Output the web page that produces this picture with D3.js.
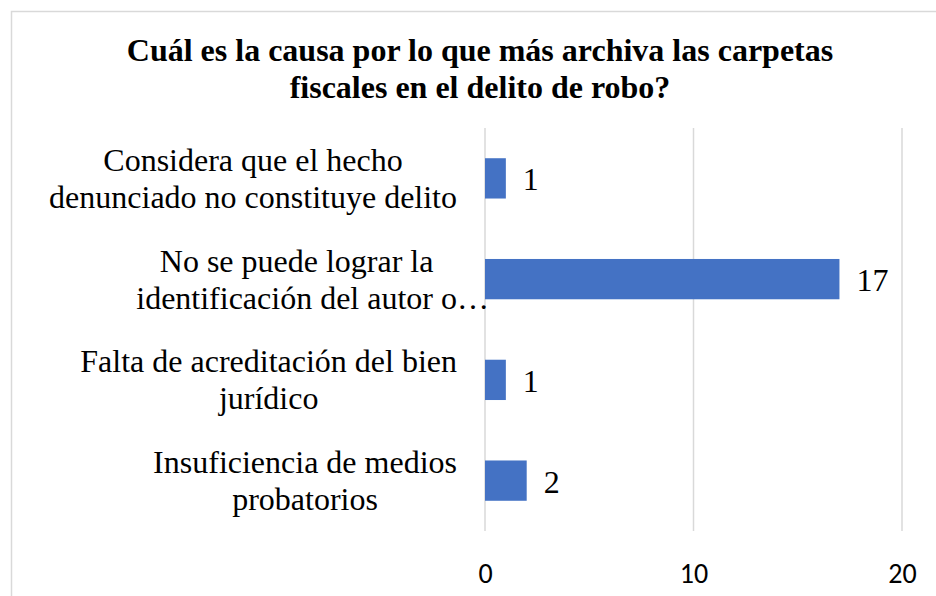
<!DOCTYPE html>
<html>
<head>
<meta charset="utf-8">
<script src="https://cdn.jsdelivr.net/npm/d3@7"></script>
<style>
  body { margin: 0; background: #fff; }
</style>
</head>
<body>
<div id="vis-container"></div>
<script>
// Data (top to bottom)
const categories = [
  ["Considera que el hecho", "denunciado no constituye delito"],
  ["No se puede lograr la", "identificación del autor o…"],
  ["Falta de acreditación del bien", "jurídico"],
  ["Insuficiencia de medios", "probatorios"]
];
const values = [1, 17, 1, 2];
const xTicks = [0, 10, 20];
const titleLines = [
  "Cuál es la causa por lo que más archiva las carpetas",
  "fiscales en el delito de robo?"
];

const W = 936, H = 596;
const plot = { left: 485, right: 902, top: 128, bottom: 531 };
const serif = "'Liberation Serif', 'Times New Roman', serif";

const svg = d3.select("#vis-container")
  .append("svg")
    .attr("width", W)
    .attr("height", H);

// chart border (runs off the right/bottom edge)
svg.append("rect")
  .attr("x", 11.5).attr("y", 11.5)
  .attr("width", W + 20).attr("height", H + 20)
  .attr("fill", "#fff")
  .attr("stroke", "#d9d9d9")
  .attr("stroke-width", 1.5);

const x = d3.scaleLinear()
  .domain([0, 20])
  .range([plot.left, plot.right]);

const y = d3.scaleBand()
  .domain(d3.range(categories.length))
  .range([plot.top, plot.bottom])
  .paddingInner(0.6)
  .paddingOuter(0.3);

// Gridlines
svg.append("g")
  .selectAll("line")
  .data(xTicks)
  .join("line")
    .attr("x1", d => x(d)).attr("x2", d => x(d))
    .attr("y1", plot.top).attr("y2", plot.bottom)
    .attr("stroke", "#d9d9d9")
    .attr("stroke-width", 1.5);

// Bars
svg.append("g")
  .selectAll("rect")
  .data(values)
  .join("rect")
    .attr("x", x(0))
    .attr("y", (d, i) => y(i))
    .attr("width", d => x(d) - x(0))
    .attr("height", y.bandwidth())
    .attr("fill", "#4472c4");

// Value labels
svg.append("g")
  .selectAll("text")
  .data(values)
  .join("text")
    .attr("x", d => x(d) + 17)
    .attr("y", (d, i) => y(i) + y.bandwidth() / 2 + 12)
    .style("font-family", serif)
    .style("font-size", "32px")
    .attr("fill", "#000")
    .text(d => d);

// X axis tick labels
const xAxis = svg.append("g")
  .attr("transform", `translate(0,${plot.bottom})`)
  .call(d3.axisBottom(x).tickValues(xTicks).tickSize(0).tickPadding(0));
xAxis.select(".domain").remove();
xAxis.selectAll("text")
  .attr("y", 52)
  .attr("dy", null)
  .style("font-family", "Calibri, Carlito, 'Open Sans', sans-serif")
  .style("font-size", "28px")
  .attr("fill", "#000");

// Category labels: block right edge at 457, lines centred in the block,
// a trailing ellipsis is allowed to run past the block
const labelRight = 457, lineGap = 37;
categories.forEach((lines, i) => {
  const g = svg.append("g");
  const cy = y(i) + y.bandwidth() / 2 + 11;
  const widths = lines.map(t => {
    const tmp = g.append("text")
      .style("font-family", serif).style("font-size", "32px")
      .text(t.replace(/…$/, ""));
    const w = tmp.node().getComputedTextLength();
    tmp.remove();
    return w;
  });
  const center = labelRight - d3.max(widths) / 2;
  lines.forEach((t, j) => {
    g.append("text")
      .attr("x", center - widths[j] / 2)
      .attr("y", cy + (j - (lines.length - 1) / 2) * lineGap)
      .style("font-family", serif)
      .style("font-size", "32px")
      .attr("fill", "#000")
      .text(t);
  });
});

// Title
svg.append("text")
  .attr("text-anchor", "middle")
  .style("font-family", serif)
  .style("font-weight", "bold")
  .style("font-size", "32px")
  .selectAll("tspan")
  .data(titleLines)
  .join("tspan")
    .attr("x", 480)
    .attr("y", (d, i) => 61 + i * 37)
    .text(d => d);
</script>
</body>
</html>
